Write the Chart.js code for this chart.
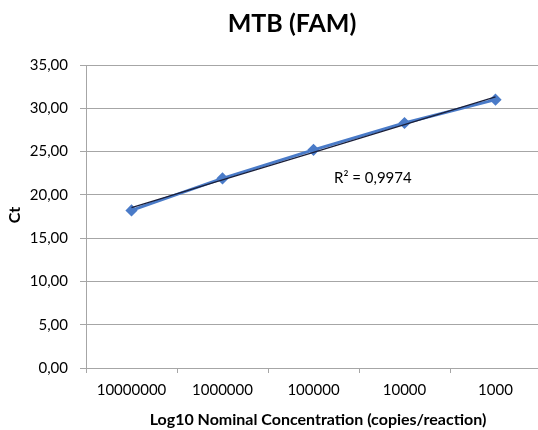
<!DOCTYPE html>
<html>
<head>
<meta charset="utf-8">
<script src="https://cdn.jsdelivr.net/npm/chart.js@4/dist/chart.umd.min.js"></script>
<style>
html,body{margin:0;padding:0;overflow:hidden;background:#fff;width:538px;height:430px;}
#wrap{position:relative;width:548px;height:430px;}
</style>
</head>
<body>
<div id="wrap"><canvas id="c" width="548" height="430"></canvas></div>
<script>
const categories = ["10000000", "1000000", "100000", "10000", "1000"];
const ctValues = [18.2, 21.9, 25.2, 28.3, 31.0];
const yTicks = [0, 5, 10, 15, 20, 25, 30, 35];
const chartTitle = "MTB (FAM)";
const xTitle = "Log10 Nominal Concentration (copies/reaction)";
const yTitle = "Ct";
const r2Label = "R² = 0,9974";

// Linear trendline (least squares over category index), like the spreadsheet's trendline
const n = ctValues.length;
const xs = ctValues.map((_, i) => i);
const mx = xs.reduce((a, b) => a + b, 0) / n;
const my = ctValues.reduce((a, b) => a + b, 0) / n;
let sxy = 0, sxx = 0;
for (let i = 0; i < n; i++) { sxy += (xs[i] - mx) * (ctValues[i] - my); sxx += (xs[i] - mx) ** 2; }
const slope = sxy / sxx, intercept = my - slope * mx;
const trend = xs.map(x => intercept + slope * x);

const FONT = "Lato, 'Open Sans', sans-serif";

const overlay = {
  id: 'overlay',
  afterDraw(chart) {
    const ctx = chart.ctx;
    ctx.save();
    ctx.fillStyle = '#000';
    ctx.textAlign = 'center';
    ctx.textBaseline = 'middle';
    ctx.font = "bold 25px " + FONT;
    ctx.fillText(chartTitle, 292, 24);
    ctx.font = "bold 16px " + FONT;
    ctx.fillText(xTitle, 318, 420);
    ctx.translate(15, 215);
    ctx.rotate(-Math.PI / 2);
    ctx.fillText(yTitle, 0, 0);
    ctx.restore();
    // R² label near the trendline
    ctx.save();
    ctx.font = "15px " + FONT;
    ctx.fillStyle = '#000';
    ctx.textAlign = 'left';
    ctx.textBaseline = 'middle';
    const xs = chart.scales.x, ys = chart.scales.y;
    const px = (xs.getPixelForValue(2) + xs.getPixelForValue(3)) / 2 - 25;
    const py = ys.getPixelForValue(21.9);
    ctx.fillText(r2Label, px, py);
    ctx.restore();
  }
};

new Chart(document.getElementById('c'), {
  type: 'line',
  data: {
    labels: categories,
    datasets: [
      {
        label: 'Ct',
        data: ctValues,
        borderColor: '#4A7BC8',
        backgroundColor: '#4A7BC8',
        borderWidth: 3,
        pointStyle: 'rectRot',
        pointRadius: 4,
        pointHoverRadius: 4,
        tension: 0,
        order: 2
      },
      {
        label: 'Trend',
        data: trend,
        borderColor: '#1a1f3a',
        borderWidth: 1.3,
        pointRadius: 0,
        tension: 0,
        order: 1
      }
    ]
  },
  options: {
    responsive: false,
    animation: false,
    events: [],
    layout: { padding: { top: 65, right: 3, left: 0, bottom: 0 } },
    plugins: { legend: { display: false }, tooltip: { enabled: false }, title: { display: false } },
    scales: {
      x: {
        type: 'category',
        offset: true,
        grid: { offset: true, drawOnChartArea: false, drawTicks: true, tickLength: 5, color: '#a6a6a6' },
        border: { color: '#a6a6a6' },
        ticks: { color: '#000', font: { family: FONT, size: 15 }, padding: 8, maxRotation: 0, autoSkip: false },
        afterFit(s) { s.height = 62; }
      },
      y: {
        min: 0, max: 35,
        afterBuildTicks(s) { s.ticks = yTicks.map(v => ({ value: v })); },
        grid: { color: '#a6a6a6', tickLength: 6, drawTicks: true },
        border: { color: '#a6a6a6' },
        ticks: {
          color: '#000', font: { family: FONT, size: 15 }, padding: 12,
          callback: v => v.toFixed(2).replace('.', ',')
        },
        afterFit(s) { s.width = 86; }
      }
    }
  },
  plugins: [overlay]
});
</script>
</body>
</html>
